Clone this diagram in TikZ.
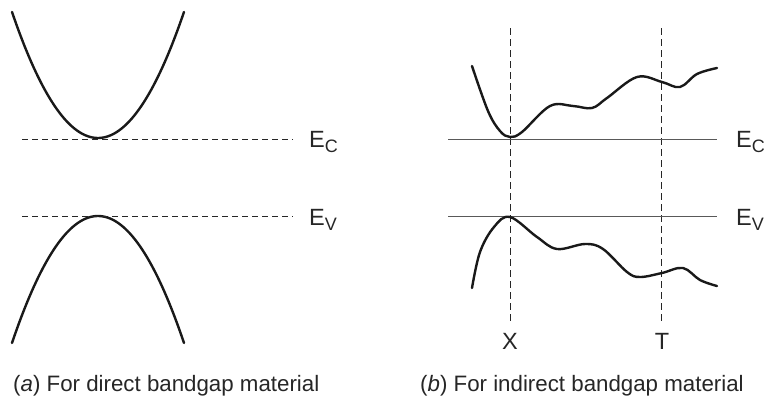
\documentclass[tikz,border=0pt]{standalone}
\usepackage{fontspec}
\setmainfont{Liberation Sans}
\usetikzlibrary{positioning}

\begin{document}
\begin{tikzpicture}[
    x=1pt, y=-1pt,
    band/.style={line width=2.4pt, draw=black!90, line cap=round},
    lvl/.style={dash pattern=on 6pt off 4pt, line width=0.7pt, draw=black!85},
    sym/.style={dash pattern=on 7pt off 4pt, line width=0.7pt, draw=black!85},
    ref/.style={line width=0.9pt, draw=black!65},
    lbl/.style={inner sep=0pt, anchor=base west, font=\fontsize{23.5}{26}\selectfont, text=black!85},
    capline/.style={inner sep=0pt, anchor=base west, font=\fontsize{22.3}{26}\selectfont, text=black!85}
]
\useasboundingbox (0,0) rectangle (764,399);

% (a) direct gap
\draw[band] plot[domain=12:184, samples=80] (\x, {138-0.01704*(\x-98)^2});
\draw[band] plot[domain=12:184, samples=80] (\x, {216+0.01717*(\x-98)^2});
\draw[lvl] (22,139) -- (293,139);
\draw[lvl] (22,216) -- (293,216);
\node[lbl] (ecA) at (309,147) {E\raisebox{-5pt}{\fontsize{18}{18}\selectfont C}};
\node[lbl] (evA) at (309,225) {E\raisebox{-5pt}{\fontsize{18}{18}\selectfont V}};
\node[capline] (capA) at (13,391) {(\textit{a}) For direct bandgap material};

% (b) indirect gap
\draw[sym] (510,28) -- (510,323);
\draw[sym] (661,28) -- (661,323);
\draw[ref] (448,139) -- (717,139);
\draw[ref] (448,216) -- (717,216);
\draw[band] plot[smooth, tension=0.6] coordinates {(472,66) (488,111) (500,131) (510,137) (522,132)
    (550,106) (573,106) (592,108) (607,98) (637,77) (662,82) (680,87) (697,74) (717,68)};
\draw[band] plot[smooth, tension=0.6] coordinates {(472,288) (480,252) (494,227) (510,217) (537,237)
    (557,249) (585,244) (603,249) (627,272) (640,277) (662,273) (683,268) (700,280) (717,286)};
\node[lbl] (ecB) at (736,147) {E\raisebox{-5pt}{\fontsize{18}{18}\selectfont C}};
\node[lbl] (evB) at (736,225) {E\raisebox{-5pt}{\fontsize{18}{18}\selectfont V}};
\node[lbl, anchor=base] (kX) at (510,349) {X};
\node[lbl, anchor=base] (kT) at (662,349) {T};
\node[capline] (capB) at (420,391) {(\textit{b}) For indirect bandgap material};
\end{tikzpicture}
\end{document}
